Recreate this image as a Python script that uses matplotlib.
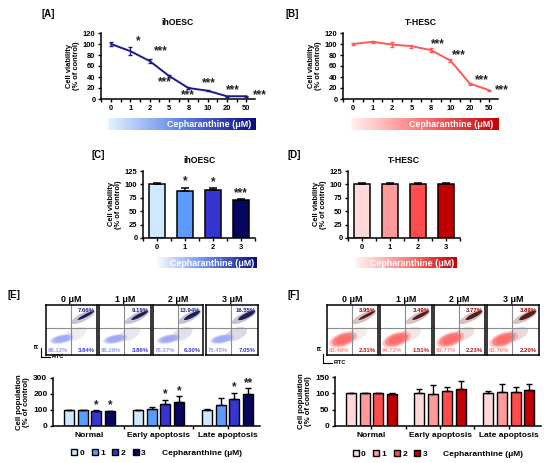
import numpy as np
import matplotlib
matplotlib.use("Agg")
import matplotlib.pyplot as plt
from matplotlib.colors import LinearSegmentedColormap
from matplotlib.patches import Ellipse, Patch

plt.rcParams['font.family'] = ['Liberation Sans', 'DejaVu Sans']
plt.rcParams['font.weight'] = 'bold'
plt.rcParams['axes.labelweight'] = 'bold'
plt.rcParams['axes.titleweight'] = 'bold'
plt.rcParams['axes.linewidth'] = 1.1

# ---- data ----
doses = ['0', '1', '2', '5', '8', '10', '20', '50']
via_ih = [100, 87, 69, 42, 20, 15, 5, 5]
via_ih_err = [4, 7, 3, 2, 1, 1, 1, 1]
via_ih_sig = ['', '*', '***', '***', '***', '***', '***', '***']
via_t = [100, 104, 99, 96, 89, 70, 28, 16]
via_t_err = [1, 2, 4, 3, 4, 2, 2, 1]
via_t_sig = ['', '', '', '', '***', '***', '***', '***']

low_doses = ['0', '1', '2', '3']
low_ih = [101, 88, 89, 70]
low_ih_err = [2, 6, 4, 2]
low_ih_sig = ['', '*', '*', '***']
low_t = [101, 101, 101, 101]
low_t_err = [1, 2, 1, 1]

groups = ['Normal', 'Early apoptosis', 'Late apoptosis']
pop_ih = [[100, 100, 95, 93], [100, 108, 140, 153], [103, 132, 170, 200]]
pop_ih_err = [[2, 2, 3, 2], [2, 12, 25, 32], [3, 45, 38, 35]]
pop_ih_sig = [['', '', '*', '*'], ['', '', '*', '*'], ['', '', '*', '**']]
pop_t = [[100, 100, 100, 99], [100, 98, 106, 113], [100, 103, 103, 109]]
pop_t_err = [[1, 1, 1, 1], [13, 27, 12, 26], [8, 27, 15, 19]]

flow_titles = ['0 μM', '1 μM', '2 μM', '3 μM']
e_late = ['7.66%', '9.19%', '13.94%', '16.55%']
e_live = ['88.12%', '86.28%', '78.37%', '75.45%']
e_early = ['3.84%', '3.86%', '6.30%', '7.05%']
f_late = ['3.95%', '3.49%', '3.77%', '3.89%']
f_live = ['93.49%', '94.72%', '93.77%', '93.70%']
f_early = ['2.31%', '1.51%', '2.23%', '2.20%']

blue_bars = ['#cde8ff', '#5c9cff', '#3535cf', '#06065e']
red_bars = ['#ffd9d9', '#ff9a9a', '#ff4d4d', '#c00000']

W, H = 550, 463
fig = plt.figure(figsize=(5.5, 4.63), dpi=100)


def rect(x0, y0, x1, y1):
    return [x0 / W, 1 - y1 / H, (x1 - x0) / W, (y1 - y0) / H]


def style(ax, fs=5.4):
    ax.spines['top'].set_visible(False)
    ax.spines['right'].set_visible(False)
    ax.tick_params(labelsize=fs, length=2.5, width=1, pad=1.5)
    for t in ax.get_xticklabels() + ax.get_yticklabels():
        t.set_fontweight('bold')


def gradient(r, c0, cm, c1):
    ax = fig.add_axes(rect(*r))
    cmap = LinearSegmentedColormap.from_list('g', [c0, cm, c1])
    ax.imshow(np.linspace(0, 1, 256)[None, :], aspect='auto', cmap=cmap,
              extent=[0, 1, 0, 1])
    ax.axis('off')
    ax.text(0.97, 0.45, 'Cepharanthine (μM)', color='white', fontsize=6.4,
            ha='right', va='center', transform=ax.transAxes)


def line_panel(r, vals, err, sig, offs, color, title, label, lx):
    ax = fig.add_axes(rect(*r))
    x = np.arange(len(doses))
    ax.errorbar(x, vals, yerr=err, color=color, lw=1.4, capsize=1.5,
                elinewidth=0.9)
    ax.set_xlim(-0.52, 7.45)
    ax.set_ylim(0, 120)
    ax.set_yticks(range(0, 121, 20))
    ax.set_xticks(x)
    ax.set_xticklabels(doses)
    ax.set_xticks(np.arange(-0.5, 7.5, 1), minor=True)
    ax.tick_params(axis='x', which='major', length=0, pad=4)
    ax.tick_params(axis='x', which='minor', length=2.5, width=1)
    ax.set_ylabel('Cell viability\n(% of control)', fontsize=5.4, labelpad=2,
                  linespacing=1.0)
    ax.set_title(title, fontsize=6.2, pad=6)
    style(ax)
    for i, s in enumerate(sig):
        if s:
            dx, dy = offs[i]
            ax.text(i + dx, vals[i] + dy, s, fontsize=8.5, ha='center',
                    va='center', color='#222222', clip_on=False)
    fig.text(lx / W, 1 - 14 / H, label, fontsize=7, va='center')
    return ax


line_panel((101, 33, 255, 99), via_ih, via_ih_err, via_ih_sig,
           [None, (0.4, 18), (0.6, 18), (-0.2, -11), (0, -13), (0.05, 14),
            (0.3, 11), (0.7, 2)],
           '#1a1a8c', 'ihOESC', '[A]', 42)
line_panel((343, 33, 498, 99), via_t, via_t_err, via_t_sig,
           [None, None, None, None, (0.35, 11), (0.45, 10), (0.6, 6),
            (0.65, 0)],
           '#ff5757', 'T-HESC', '[B]', 286)
gradient((108, 118, 256, 130), '#e4f3ff', '#5a82e6', '#0a0a7e')
gradient((351, 118, 498, 130), '#fff2f2', '#ff7070', '#c40000')


def bar_panel(r, vals, err, sig, colors, title, label, lx):
    ax = fig.add_axes(rect(*r))
    x = np.arange(len(low_doses))
    ax.bar(x, vals, width=0.58, color=colors, edgecolor='black', lw=1.1,
           yerr=[[0] * 4, err], capsize=3,
           error_kw=dict(elinewidth=1.1, capthick=1.1))
    ax.set_xlim(-0.5, 3.5)
    ax.set_ylim(0, 125)
    ax.set_yticks(range(0, 126, 25))
    ax.set_xticks(x)
    ax.set_xticklabels(low_doses)
    ax.set_xticks(np.arange(-0.5, 4, 1), minor=True)
    ax.tick_params(axis='x', which='major', length=0, pad=4)
    ax.tick_params(axis='x', which='minor', length=2.5, width=1)
    ax.set_ylabel('Cell viability\n(% of control)', fontsize=5.4, labelpad=2,
                  linespacing=1.0)
    ax.set_title(title, fontsize=6.2, pad=6)
    style(ax)
    for i, s in enumerate(sig):
        if s:
            ax.text(i, vals[i] + err[i] + 12, s, fontsize=8.5, ha='center',
                    va='center', color='#222222')
    fig.text(lx / W, 1 - 155 / H, label, fontsize=7, va='center')


bar_panel((143, 171, 255, 238), low_ih, low_ih_err, low_ih_sig, blue_bars,
          'ihOESC', '[C]', 91)
bar_panel((348, 171, 460, 238), low_t, low_t_err, ['', '', '', ''], red_bars,
          'T-HESC', '[D]', 288)
gradient((155, 257, 257, 268), '#ffffff', '#6a8ef0', '#0a0a7e')
gradient((355, 257, 457, 268), '#fff5f5', '#ff8080', '#c40000')


def flow_panel(boxes, late, live, early, blob, blob_c, streak_c, halo_c,
               live_c, early_c, late_c, label, lx, pi_xy, corner):
    bx, by, bw, bh, ba = blob
    for k, (x0, x1) in enumerate(boxes):
        ax = fig.add_axes(rect(x0, 305, x1, 355))
        ax.set_xlim(0, 1)
        ax.set_ylim(0, 1)
        ax.set_xticks([])
        ax.set_yticks([])
        for sp in ax.spines.values():
            sp.set_linewidth(1.1)
        ax.axvline(0.49, color='#8c8c8c', lw=0.8)
        ax.axhline(0.55, color='#8c8c8c', lw=0.8)
        # sparse scatter toward the right
        ax.add_patch(Ellipse((0.58, 0.42), 0.45, 0.24, angle=25,
                             color=halo_c, alpha=0.12 + 0.04 * k, lw=0))
        # live population cloud
        for sc, al in [(1.25, 0.4), (1.0, 0.75), (0.7, 1.0)]:
            ax.add_patch(Ellipse((bx, by), bw * sc, bh * sc, angle=ba,
                                 color=blob_c, alpha=al, lw=0))
        # dead / late apoptotic streak
        ax.add_patch(Ellipse((0.73, 0.76), 0.52, 0.16, angle=28,
                             color=halo_c, alpha=0.4, lw=0))
        ax.add_patch(Ellipse((0.78, 0.79), 0.36, 0.06 + 0.012 * k, angle=28,
                             color=streak_c, alpha=0.95, lw=0))
        ax.text(0.95, 0.93, late[k], fontsize=4.3, ha='right', va='top',
                color=late_c)
        ax.text(0.04, 0.05, live[k], fontsize=4.3, ha='left', va='bottom',
                color=live_c)
        ax.text(0.95, 0.05, early[k], fontsize=4.3, ha='right', va='bottom',
                color=early_c)
        ax.set_title(flow_titles[k], fontsize=6.4, pad=2)
    fig.text(lx / W, 1 - 295 / H, label, fontsize=7, va='center')
    fig.text(pi_xy[0] / W, 1 - pi_xy[1] / H, 'PI', fontsize=4,
             rotation=90, ha='center', va='center')
    cx, cy = corner
    fig.add_artist(plt.Line2D([cx / W, cx / W], [1 - (cy - 9) / H, 1 - cy / H],
                              color='black', lw=0.8))
    fig.add_artist(plt.Line2D([cx / W, (cx + 9) / W], [1 - cy / H, 1 - cy / H],
                              color='black', lw=0.8))
    fig.text((cx + 11) / W, 1 - cy / H, 'FITC', fontsize=4, va='center')


flow_panel([(46, 97), (99, 151), (153, 203), (206, 258)], e_late, e_live,
           e_early, (0.31, 0.32, 0.38, 0.14, 12), '#a2a8f4', '#16164e',
           '#6a6a96', '#9a9af0', '#3a3ad0', '#20208a', '[E]', 7, (37, 345),
           (41, 357))
flow_panel([(327, 378), (380, 432), (434, 485), (487, 539)], f_late, f_live,
           f_early, (0.32, 0.31, 0.46, 0.22, 20), '#ff6e6e', '#4e1616',
           '#a06464', '#ff8a8a', '#c01010', '#a00000', '[F]', 288, (320, 347),
           (323, 363))


def pop_panel(r, vals, err, sig, colors, ymax, step):
    ax = fig.add_axes(rect(*r))
    g = np.arange(len(groups))
    for j in range(4):
        v = [vals[i][j] for i in range(3)]
        e = [err[i][j] for i in range(3)]
        ax.bar(g + (j - 1.5) * 0.2, v, width=0.145, color=colors[j],
               edgecolor='black', lw=1.0, yerr=[[0] * 3, e], capsize=2.5,
               error_kw=dict(elinewidth=1.0, capthick=1.0))
        if sig:
            for i in range(3):
                if sig[i][j]:
                    ax.text(g[i] + (j - 1.5) * 0.2, v[i] + e[i] + ymax * 0.11,
                            sig[i][j], fontsize=8.5, ha='center', va='center',
                            color='#222222')
    ax.set_xlim(-0.53, 2.47)
    ax.set_ylim(0, ymax)
    ax.set_yticks(range(0, ymax + 1, step))
    ax.set_xticks(g)
    ax.set_xticklabels(groups)
    ax.set_xticks([0.5, 1.5], minor=True)
    ax.tick_params(axis='x', which='major', length=0, pad=4)
    ax.tick_params(axis='x', which='minor', length=2.5, width=1)
    ax.set_ylabel('Cell population\n(% of control)', fontsize=5.6, labelpad=2,
                  linespacing=1.0)
    style(ax, 6)
    handles = [Patch(facecolor=c, edgecolor='black', lw=1.0) for c in colors]
    handles.append(Patch(facecolor='none', edgecolor='none'))
    ax.legend(handles, low_doses + ['Cepharanthine (μM)'], ncol=5,
              loc='upper center', bbox_to_anchor=(0.5, -0.42), frameon=False,
              fontsize=6, handlelength=0.7, handleheight=0.7,
              handletextpad=0.3, columnspacing=0.9, borderaxespad=0)


pop_panel((53, 378, 260, 426), pop_ih, pop_ih_err, pop_ih_sig, blue_bars,
          300, 100)
pop_panel((335, 377, 541, 426), pop_t, pop_t_err, None, red_bars, 150, 50)

fig.savefig('out.png', dpi=100)
